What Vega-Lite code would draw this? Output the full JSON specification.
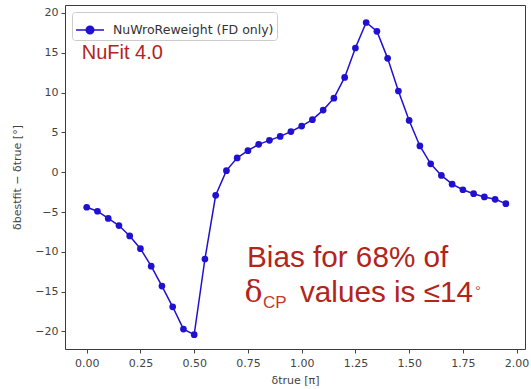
{
  "$schema": "https://vega.github.io/schema/vega-lite/v6.json",
  "width": 460,
  "height": 344,
  "autosize": {"type": "none"},
  "padding": {"left": 65, "top": 5, "right": 6, "bottom": 40},
  "background": "white",
  "config": {
    "view": {"stroke": "#3a3a3a", "strokeWidth": 1},
    "axis": {
      "domain": false,
      "grid": false,
      "labelFont": "DejaVu Sans",
      "labelFontSize": 11,
      "labelColor": "#444",
      "tickColor": "#444",
      "tickSize": 4,
      "titleFont": "DejaVu Sans",
      "titleFontSize": 11,
      "titleFontWeight": "normal",
      "titleColor": "#444"
    }
  },
  "encoding": {
    "x": {
      "field": "x",
      "type": "quantitative",
      "scale": {"domain": [-0.101, 2.039], "nice": false, "zero": false},
      "axis": {
        "values": [0, 0.25, 0.5, 0.75, 1, 1.25, 1.5, 1.75, 2],
        "format": ".2f",
        "title": "δtrue [π]",
        "titlePadding": 6,
        "labelPadding": 4
      }
    },
    "y": {
      "field": "y",
      "type": "quantitative",
      "scale": {"domain": [-22.2, 21.0], "nice": false, "zero": false},
      "axis": {
        "values": [-20, -15, -10, -5, 0, 5, 10, 15, 20],
        "labelExpr": "replace(datum.label, '-', '−')",
        "title": "δbestfit − δtrue [°]",
        "titlePadding": 12,
        "labelPadding": 3
      }
    }
  },
  "layer": [
    {
      "data": {
        "values": [
          {"x": 0.00, "y": -4.4, "series": "NuWroReweight (FD only)"},
          {"x": 0.05, "y": -4.9, "series": "NuWroReweight (FD only)"},
          {"x": 0.10, "y": -5.8, "series": "NuWroReweight (FD only)"},
          {"x": 0.15, "y": -6.7, "series": "NuWroReweight (FD only)"},
          {"x": 0.20, "y": -8.0, "series": "NuWroReweight (FD only)"},
          {"x": 0.25, "y": -9.6, "series": "NuWroReweight (FD only)"},
          {"x": 0.30, "y": -11.8, "series": "NuWroReweight (FD only)"},
          {"x": 0.35, "y": -14.3, "series": "NuWroReweight (FD only)"},
          {"x": 0.40, "y": -16.9, "series": "NuWroReweight (FD only)"},
          {"x": 0.45, "y": -19.7, "series": "NuWroReweight (FD only)"},
          {"x": 0.50, "y": -20.4, "series": "NuWroReweight (FD only)"},
          {"x": 0.55, "y": -10.9, "series": "NuWroReweight (FD only)"},
          {"x": 0.60, "y": -2.9, "series": "NuWroReweight (FD only)"},
          {"x": 0.65, "y": 0.2, "series": "NuWroReweight (FD only)"},
          {"x": 0.70, "y": 1.8, "series": "NuWroReweight (FD only)"},
          {"x": 0.75, "y": 2.7, "series": "NuWroReweight (FD only)"},
          {"x": 0.80, "y": 3.5, "series": "NuWroReweight (FD only)"},
          {"x": 0.85, "y": 4.0, "series": "NuWroReweight (FD only)"},
          {"x": 0.90, "y": 4.5, "series": "NuWroReweight (FD only)"},
          {"x": 0.95, "y": 5.1, "series": "NuWroReweight (FD only)"},
          {"x": 1.00, "y": 5.8, "series": "NuWroReweight (FD only)"},
          {"x": 1.05, "y": 6.6, "series": "NuWroReweight (FD only)"},
          {"x": 1.10, "y": 7.8, "series": "NuWroReweight (FD only)"},
          {"x": 1.15, "y": 9.3, "series": "NuWroReweight (FD only)"},
          {"x": 1.20, "y": 11.9, "series": "NuWroReweight (FD only)"},
          {"x": 1.25, "y": 15.6, "series": "NuWroReweight (FD only)"},
          {"x": 1.30, "y": 18.8, "series": "NuWroReweight (FD only)"},
          {"x": 1.35, "y": 17.7, "series": "NuWroReweight (FD only)"},
          {"x": 1.40, "y": 14.3, "series": "NuWroReweight (FD only)"},
          {"x": 1.45, "y": 10.2, "series": "NuWroReweight (FD only)"},
          {"x": 1.50, "y": 6.5, "series": "NuWroReweight (FD only)"},
          {"x": 1.55, "y": 3.3, "series": "NuWroReweight (FD only)"},
          {"x": 1.60, "y": 1.05, "series": "NuWroReweight (FD only)"},
          {"x": 1.65, "y": -0.4, "series": "NuWroReweight (FD only)"},
          {"x": 1.70, "y": -1.5, "series": "NuWroReweight (FD only)"},
          {"x": 1.75, "y": -2.2, "series": "NuWroReweight (FD only)"},
          {"x": 1.80, "y": -2.7, "series": "NuWroReweight (FD only)"},
          {"x": 1.85, "y": -3.1, "series": "NuWroReweight (FD only)"},
          {"x": 1.90, "y": -3.4, "series": "NuWroReweight (FD only)"},
          {"x": 1.95, "y": -3.95, "series": "NuWroReweight (FD only)"}
        ]
      },
      "mark": {"type": "line", "strokeWidth": 1.5, "point": {"filled": true, "size": 45}},
      "encoding": {
        "color": {
          "field": "series",
          "type": "nominal",
          "scale": {"range": ["#2010d0"]},
          "legend": {
            "title": null,
            "orient": "top-left",
            "offset": 7,
            "symbolType": "M-1,0L1,0M0.27,0A0.27,0.27,0,1,1,-0.27,0A0.27,0.27,0,1,1,0.27,0Z",
            "symbolSize": 784,
            "symbolStrokeWidth": 1.5,
            "symbolFillColor": "#2010d0",
            "symbolStrokeColor": "#2010d0",
            "labelFont": "DejaVu Sans",
            "labelFontSize": 12.5,
            "labelColor": "#333",
            "labelLimit": 0,
            "labelOffset": 8,
            "strokeColor": "#cccccc",
            "fillColor": "white",
            "cornerRadius": 3,
            "padding": 3
          }
        }
      }
    },
    {
      "data": {"values": [{"x": -0.0233, "y": 14.16, "label": "NuFit 4.0"}]},
      "mark": {"type": "text", "align": "left", "baseline": "alphabetic", "font": "Liberation Sans", "fontSize": 20, "color": "#b3241b"},
      "encoding": {"text": {"field": "label"}}
    },
    {
      "data": {
        "values": [
          {"x": 0.7456, "y": -11.85, "label": "Bias for 68% of"},
          {"x": 0.992, "y": -16.29, "label": "values is ≤14"}
        ]
      },
      "mark": {"type": "text", "align": "left", "baseline": "alphabetic", "font": "Liberation Sans", "fontSize": 29.7, "color": "#b3241b"},
      "encoding": {"text": {"field": "label"}}
    },
    {
      "data": {"values": [{"x": 0.734, "y": -16.29, "label": "δ"}]},
      "mark": {"type": "text", "align": "left", "baseline": "alphabetic", "font": "DejaVu Serif", "fontSize": 30, "color": "#b3241b"},
      "encoding": {"text": {"field": "label"}}
    },
    {
      "data": {"values": [{"x": 0.82, "y": -17.11, "label": "CP"}]},
      "mark": {"type": "text", "align": "left", "baseline": "alphabetic", "font": "Liberation Sans", "fontSize": 17, "color": "#c4392a"},
      "encoding": {"text": {"field": "label"}}
    },
    {
      "data": {"values": [{"x": 1.806, "y": -15.49, "label": "°"}]},
      "mark": {"type": "text", "align": "left", "baseline": "alphabetic", "font": "Liberation Sans", "fontSize": 15, "color": "#b5564c"},
      "encoding": {"text": {"field": "label"}}
    }
  ]
}
